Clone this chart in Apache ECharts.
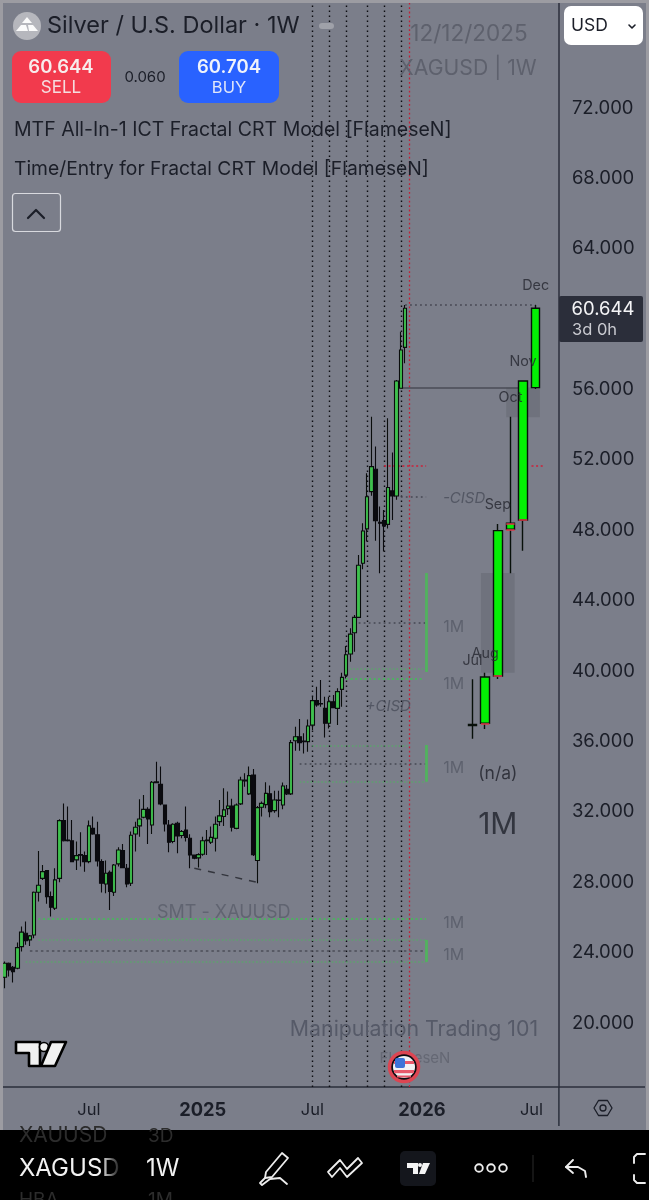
<!DOCTYPE html>
<html><head><meta charset="utf-8">
<style>html,body{margin:0;padding:0;background:#000}#c{width:649px;height:1200px}</style>
<script src="https://cdn.jsdelivr.net/npm/echarts@6/dist/echarts.min.js"></script>
</head><body><div id="c"></div>
<script>
const categories = [
"2024-02-12","2024-02-19","2024-02-26","2024-03-04","2024-03-11","2024-03-18","2024-03-25","2024-04-01","2024-04-08","2024-04-15","2024-04-22","2024-04-29",
"2024-05-06","2024-05-13","2024-05-20","2024-05-27","2024-06-03","2024-06-10","2024-06-17","2024-06-24","2024-07-01","2024-07-08","2024-07-15","2024-07-22","2024-07-29",
"2024-08-05","2024-08-12","2024-08-19","2024-08-26","2024-09-02","2024-09-09","2024-09-16","2024-09-23","2024-09-30","2024-10-07","2024-10-14","2024-10-21","2024-10-28",
"2024-11-04","2024-11-11","2024-11-18","2024-11-25","2024-12-02","2024-12-09","2024-12-16","2024-12-23","2024-12-30","2025-01-06","2025-01-13","2025-01-20","2025-01-27",
"2025-02-03","2025-02-10","2025-02-17","2025-02-24","2025-03-03","2025-03-10","2025-03-17","2025-03-24","2025-03-31","2025-04-07","2025-04-14","2025-04-21","2025-04-28",
"2025-05-05","2025-05-12","2025-05-19","2025-05-26","2025-06-02","2025-06-09","2025-06-16","2025-06-23","2025-06-30","2025-07-07","2025-07-14","2025-07-21","2025-07-28",
"2025-08-04","2025-08-11","2025-08-18","2025-08-25","2025-09-01","2025-09-08","2025-09-15","2025-09-22","2025-09-29","2025-10-06","2025-10-13","2025-10-20","2025-10-27",
"2025-11-03","2025-11-10","2025-11-17","2025-11-24","2025-12-01","2025-12-08","2025-12-15","2025-12-22","2025-12-29","2026-01-05","2026-01-12","2026-01-19","2026-01-26",
"2026-02-02","2026-02-09","2026-02-16","2026-02-23","2026-03-02","2026-03-09","2026-03-16","2026-03-23","2026-03-30","2026-04-06","2026-04-13","2026-04-20","2026-04-27",
"2026-05-04","2026-05-11","2026-05-18","2026-05-25","2026-06-01","2026-06-08","2026-06-15","2026-06-22","2026-06-29","2026-07-06","2026-07-13","2026-07-20","2026-07-27",
"2026-08-03","2026-08-10","2026-08-17"];
const xTickLabels = {"2024-07-01":"Jul","2025-01-06":"2025","2025-07-07":"Jul","2026-01-05":"2026","2026-07-06":"Jul"};
const yTickLabels = [20,24,28,32,36,40,44,48,52,56,64,68,72];

// weekly [open, close, low, high]
const weeklyOHLC = [
[22.60,23.39,21.97,23.49],[23.39,23.01,22.64,23.43],[23.17,22.92,22.30,23.24],[23.11,24.28,23.05,24.57],
[24.34,25.16,24.06,25.48],[25.10,24.68,24.44,25.76],[24.72,24.95,24.38,25.00],[25.00,27.43,24.81,27.47],
[27.43,27.83,26.90,29.78],[28.22,28.60,28.13,28.98],[28.66,27.18,26.77,28.70],[27.18,26.58,26.05,27.47],
[26.52,28.13,26.42,28.79],[28.22,31.50,28.00,31.58],[31.50,30.36,30.31,32.48],[30.40,30.36,30.31,32.30],
[30.36,29.17,29.13,31.54],[29.27,29.51,28.70,30.31],[29.57,29.53,28.89,30.84],[29.51,29.17,28.60,29.74],
[29.17,31.20,29.08,31.50],[31.06,30.74,30.69,31.73],[30.70,29.21,28.89,31.44],[29.17,27.94,27.41,29.30],
[27.90,28.51,27.37,29.23],[28.56,27.47,26.42,28.66],[27.43,28.98,27.22,29.04],[29.04,29.83,28.89,29.98],
[29.80,28.83,28.79,30.17],[28.79,27.90,27.71,29.04],[27.94,30.67,27.79,30.88],[30.74,31.12,29.74,31.44],
[31.20,31.59,30.59,32.71],[31.69,32.14,31.63,32.96],[32.14,31.59,30.17,32.26],[31.25,33.68,30.74,33.75],
[33.70,33.66,33.62,34.85],[33.56,32.45,32.37,34.57],[32.39,31.31,30.88,32.39],[31.25,30.27,29.70,31.54],
[30.31,31.29,30.21,31.35],[31.35,30.63,29.64,31.44],[30.65,30.88,30.50,30.97],[30.97,30.55,30.31,32.30],
[30.50,29.55,28.79,30.72],[29.55,29.36,29.30,29.57],[29.38,29.57,28.83,29.64],[29.59,30.36,29.51,30.59],
[30.36,30.40,29.55,30.97],[30.27,30.55,30.17,31.16],[30.50,31.29,29.74,31.73],[31.44,31.77,31.20,32.67],
[31.73,32.11,31.20,33.34],[32.18,32.33,31.82,33.15],[32.33,31.12,30.88,32.75],[31.06,32.39,31.01,32.48],
[32.45,33.81,32.39,34.00],[33.81,33.75,33.43,34.19],[33.02,34.06,32.96,34.57],[34.09,29.57,29.49,34.44],
[29.23,32.24,27.94,32.33],[32.26,32.48,31.73,32.58],[32.41,33.05,32.20,33.68],[33.02,32.01,31.69,33.49],
[32.07,32.67,31.95,33.20],[32.67,32.64,31.69,33.20],[32.39,33.47,32.14,33.66],[33.28,33.02,32.96,33.53],
[33.02,35.93,32.96,36.08],[36.04,36.27,35.47,36.84],[36.27,35.93,35.47,37.27],[36.02,35.99,35.32,36.46],
[35.99,36.88,35.42,37.25],[36.93,38.32,36.65,38.54],[38.32,38.07,37.97,39.11],[38.16,38.13,37.97,39.49],
[37.88,37.03,36.23,38.54],[37.03,38.26,36.74,38.54],[38.26,37.92,37.88,38.64],[37.88,38.83,36.93,39.02],
[38.96,39.64,37.97,39.91],[39.77,40.93,39.58,41.42],[40.97,42.10,40.53,42.43],[42.18,43.05,41.10,43.18],
[43.05,46.01,43.05,46.60],[46.13,47.96,45.78,48.40],[48.08,49.91,47.36,51.24],[50.20,51.62,49.97,54.46],
[51.47,48.55,47.41,52.76],[48.46,48.40,45.56,49.35],[48.55,48.25,46.79,49.16],[48.34,50.43,48.10,54.37],
[50.24,49.95,48.59,52.42],[49.95,56.49,49.73,56.55],[56.07,58.25,56.07,59.29],[58.40,60.62,57.49,60.81]];

// monthly overlay
const monthNames = ["Jul","Aug","Sep","Oct","Nov","Dec"];
const monthSlots = ["2026-03-30","2026-04-20","2026-05-11","2026-06-01","2026-06-22","2026-07-13"];
const monthlyOHLC = [
[36.91,36.97,36.16,39.53],[37.03,39.66,36.71,39.91],[39.72,47.98,39.55,48.36],
[48.06,48.40,45.56,54.46],[48.59,56.49,46.84,56.49],[56.11,60.62,56.03,60.80]];

const sessionLines = ["2025-07-07","2025-08-04","2025-09-01","2025-10-06","2025-11-03","2025-12-01"];
const currentLine = "2025-12-15";

// [startDate, endDate, price]
const greyDotted = [["2025-12-08","2026-07-13",60.81],["2025-12-01","2026-01-12",49.91],["2025-09-22","2026-01-12",42.75],["2025-06-16","2026-01-12",34.72]];
const closeLevel = [["2025-12-01","2026-06-22",56.11]];
const redDotted = [["2025-11-03","2026-01-12",51.68],["2026-07-06","2026-07-27",51.68]];
const greenDotted = [["2025-09-01","2026-01-05",39.55],["2024-04-08","2026-01-12",25.91]];
const dimGreen = [["2025-09-01","2026-01-12",40.12],["2025-07-07","2025-12-15",35.74],["2025-06-16","2026-01-12",33.70],["2024-04-08","2026-01-12",24.72],["2024-03-18","2026-01-12",23.48]];
const greyDashed = [["2024-03-25","2026-01-12",24.11]];
const greenBars = [[45.57,39.95],[35.80,33.71],[24.72,23.47]];
const greenBarDate = "2026-01-12";
const redTicks = [["2026-04-20",37.03],["2026-05-11",39.72],["2026-06-01",48.06],["2026-06-01",48.40],["2026-06-22",48.59]];
const smtLine = [["2024-12-23",28.79],["2025-04-14",27.94]];
const zones = [[["2026-05-25",56.11],["2026-07-20",54.43]],[["2026-04-13",45.57],["2026-06-08",39.91]]];

// [date, price, text, kind]
const notes = [
["2026-03-16",49.80,"-CISD","cisd"],["2025-11-10",37.96,"+CISD","cisd"],
["2026-03-02",42.50,"1M","m"],["2026-03-02",39.26,"1M","m"],["2026-03-02",34.49,"1M","m"],
["2026-03-02",25.68,"1M","m"],["2026-03-02",23.86,"1M","m"],
["2026-05-11",34.15,"(n/a)","na"],["2026-05-11",31.26,"1M","big"],
["2025-02-10",26.28,"SMT - XAUUSD","smt"]];

const UI = "Inter, 'Noto Sans', sans-serif";
const BG = "#7b7e8a", INK = "#1b1e28", PANE = "#2b2f3b";
const noteStyle = {
 cisd:{fontSize:15,fontStyle:"italic",color:"#4a4d5a"},
 m:{fontSize:16,color:"#565a66",offset:[-2,0]},
 na:{fontSize:17.5,color:"#1f2129"},
 big:{fontSize:30,color:"#20232c"},
 smt:{fontSize:18,color:"#5a5e6a"}};

function seg(list){return list.map(l=>[{coord:[l[0],l[2]]},{coord:[l[1],l[2]]}]);}
const idxOf = d => categories.indexOf(d);
function tick(t){const i=idxOf(t[0]);return [{coord:[categories[i-1],t[1]]},{coord:[categories[i+1],t[1]]}];}
function styled(data,style){return data.map(d=>{d[0].lineStyle=style;return d;});}

const markLines = [].concat(
 sessionLines.map(d=>({xAxis:d,lineStyle:{color:"#0d0d12",type:[1.6,3.4],width:1.4}})),
 [{xAxis:currentLine,lineStyle:{color:"#c41f36",type:[1.8,2.6],width:1.3}}],
 styled(seg(greyDotted),{color:"#464853",type:[1.8,3.2],width:1.5}),
 styled(seg(closeLevel),{color:"#4a4c56",type:"solid",width:1.5}),
 styled(seg(redDotted),{color:"#cf1f38",type:[2,2.6],width:1.6}),
 styled(seg(greenDotted),{color:"#3fc254",type:[2,2.6],width:1.6}),
 styled(seg(dimGreen),{color:"#5da36e",type:[1.6,2],width:1.6}),
 styled(seg(greyDashed),{color:"#4c4e58",type:[2.5,3],width:1.5}),
 greenBars.map(b=>[{coord:[greenBarDate,b[0]],lineStyle:{color:"#52b25e",type:"solid",width:2.8}},{coord:[greenBarDate,b[1]]}]),
 [[{coord:smtLine[0],lineStyle:{color:"#33353d",type:[7,7],width:1.5}},{coord:smtLine[1]}]]
);

const monthlyData = categories.map(c=>{const k=monthSlots.indexOf(c);return k<0?["-","-","-","-"]:monthlyOHLC[k];});

function tx(text,x,y,font,fill,align){return {type:"text",z:100,silent:true,style:{text,x,y,font,fill,align:align||"center",verticalAlign:"middle",textAlign:align||"center",textVerticalAlign:"middle"}};}
function rect(x,y,w,h,fill,r,stroke,lw){return {type:"rect",z:100,silent:true,shape:{x,y,width:w,height:h,r:r||0},style:{fill:fill||"none",stroke:stroke||null,lineWidth:lw||0}};}
function line(x1,y1,x2,y2,stroke,lw){return {type:"line",z:100,silent:true,shape:{x1,y1,x2,y2},style:{stroke,lineWidth:lw||1}};}
function poly(points,fill,stroke,lw,closed){return {type:closed===false?"polyline":"polygon",z:100,silent:true,shape:{points},style:{fill:fill||"none",stroke:stroke||null,lineWidth:lw||0,lineJoin:"round",lineCap:"round"}};}
function circ(cx,cy,r,fill,stroke,lw){return {type:"circle",z:100,silent:true,shape:{cx,cy,r},style:{fill:fill||"none",stroke:stroke||null,lineWidth:lw||0}};}

const graphics = [
 // screen edges
 rect(0,0,649,3,"#9c9ca2"), rect(0,0,3,1130,"#9c9ca2"), rect(646,0,3,1130,"#9c9ca2"),
 // header
 circ(27,26,14,"#b6b7bd"),
 poly([[27,17],[32,23],[22,23]],"#fbfbfb"),poly([[21,25],[26,25],[28,31],[16,31]],"#fbfbfb"),poly([[28,25],[33,25],[38,31],[29,31]],"#fbfbfb"),
 tx("Silver / U.S. Dollar · 1W",47,26,"23.5px "+UI,INK,"left"),
 rect(319,23,15,6,"#9fa1a9",3),
 tx("12/12/2025",469,34,"22.5px "+UI,"#5e616d"),
 tx("XAGUSD | 1W",468,69,"21.2px "+UI,"#5e616d"),
 rect(12,51,99,52,"#f23a4d",9), tx("60.644",61,67,"600 18.5px "+UI,"#f7ecec"), tx("SELL",61,88,"17px "+UI,"#f5dcdf"),
 tx("0.060",145,77,"15px "+UI,INK),
 rect(179,51,100,52,"#2962ff",9), tx("60.704",229,67,"600 18.5px "+UI,"#f0f3fb"), tx("BUY",229,88,"16.5px "+UI,"#e1e7fa"),
 tx("MTF All-In-1 ICT Fractal CRT Model [FlameseN]",14,130,"19.5px "+UI,INK,"left"),
 tx("Time/Entry for Fractal CRT Model [FlameseN]",14,169,"19.3px "+UI,INK,"left"),
 rect(12.5,193.5,48,38,"none",3,"#d8d9de",1.2),
 poly([[28,218],[36,210],[44,218]],"none",INK,2.2,false),
 // scale corner
 rect(564,6,79,39,"#ffffff",7),
 tx("USD",571,26,"17.5px "+UI,INK,"left"),
 poly([[629,25],[632,28],[635,25]],"none",INK,1.6,false),
 // last price tag
 rect(559,296,84,46,"#2b2e3a",2),
 tx("60.644",603,309,"18.5px "+UI,"#f4f4f6"),
 tx("3d 0h",572,330,"16.5px "+UI,"#c9cad0","left"),
 // watermarks
 tx("Manipulation Trading 101",414,1030,"21.3px "+UI,"#565a68"),
 tx("FlameseN",415,1058,"15px "+UI,"#656874"),
 // flag
 circ(404,1067,14.5,"#0c0c10","#dd4552",3.5),
 circ(404,1067,11,"#f2f2f4"),
 rect(394,1061,20,3,"#e8596b"), rect(394,1070,20,3.2,"#e8596b"), rect(397,1075.5,14,2,"#e8596b"),
 rect(395,1058,10,10,"#3d73d8",2),
 // TradingView mark
 poly([[16,1042],[40,1042],[40,1066],[29,1066],[29,1053],[16,1053]],"#f1f1f1","#000",2.6),
 circ(44,1047,4.5,"#f1f1f1","#000",1.6),
 poly([[51,1042],[66,1042],[55,1066],[41,1066]],"#f1f1f1","#000",2.6),
 // axis extensions
 line(558.9,1087,558.9,1126,PANE,1.5), line(558.9,1087,645,1087,PANE,1.5),
 poly([[594,1108],[598.5,1100.5],[607.5,1100.5],[612,1108],[607.5,1115.5],[598.5,1115.5]],"none",INK,1.3),
 circ(603,1108,3,"none",INK,1.3),
 // toolbar
 rect(0,1130,649,70,"#000000"),
 tx("XAUUSD",19,1136,"21px "+UI,"#2c2c2c","left"), tx("3D",148,1136,"19px "+UI,"#2c2c2c","left"),
 tx("XAGUSD",19,1169,"24px "+UI,"#f2f2f2","left"), tx("1W",146,1169,"24px "+UI,"#f2f2f2","left"),
 {type:"rect",z:101,silent:true,shape:{x:100,y:1155,width:22,height:30},style:{fill:{type:"linear",x:0,y:0,x2:1,y2:0,colorStops:[{offset:0,color:"rgba(0,0,0,0)"},{offset:1,color:"rgba(0,0,0,1)"}]}}},
 tx("HBA",19,1200,"19px "+UI,"#2c2c2c","left"), tx("1M",148,1200,"19px "+UI,"#2c2c2c","left"),
 poly([[266,1172],[282,1153],[288,1158],[272,1177],[265,1178]],"none","#ededed",1.8),
 poly([[265,1178],[260,1183],[262,1185],[270,1179],[280,1178],[287,1184]],"none","#ededed",1.8,false),
 poly([[328,1172],[340,1160],[347,1169],[358,1158],[362,1163],[347,1177],[340,1168],[332,1177]],"none","#ededed",1.8),
 rect(400,1151,36,35,"#14161c",5),
 poly([[407,1163],[418,1163],[418,1174],[413,1174],[413,1168],[407,1168]],"#f4f4f4"),
 circ(420,1165,2,"#f4f4f4"),
 poly([[423,1163],[430,1163],[425,1174],[419,1174]],"#f4f4f4"),
 circ(479,1168,3.8,"none","#ededed",1.9),circ(491,1168,3.8,"none","#ededed",1.9),circ(503,1168,3.8,"none","#ededed",1.9),
 line(533,1155,533,1182,"#2a2a2a",1),
 poly([[573,1160],[566,1167],[573,1173]],"none","#ededed",1.9,false),
 poly([[566,1167],[578,1167],[585,1171],[586,1177]],"none","#ededed",1.9,false),
 poly([[645,1154],[637,1154],[634,1157],[634,1163]],"none","#ededed",1.9,false),
 poly([[634,1175],[634,1180],[637,1183],[645,1183]],"none","#ededed",1.9,false)
];

const chart = echarts.init(document.getElementById("c"),null,{renderer:"canvas"});
chart.setOption({
 animation:false,
 backgroundColor:BG,
 textStyle:{fontFamily:UI},
 tooltip:{show:false},
 legend:{show:false},
 grid:{left:2.5,width:556.4,top:3,height:1084},
 xAxis:{type:"category",data:categories,boundaryGap:true,
  axisLine:{lineStyle:{color:PANE,width:1.5}},axisTick:{show:false},splitLine:{show:false},
  axisLabel:{margin:15,fontFamily:UI,fontSize:16.5,color:INK,hideOverlap:false,interval:(i,v)=>v in xTickLabels,
   formatter:v=>{const t=xTickLabels[v];if(!t)return "";return t.length===4?"{y|"+t+"}":t;},
   rich:{y:{fontFamily:UI,fontSize:18.3,fontWeight:700,color:INK}}}},
 yAxis:{type:"value",position:"right",min:16.36,max:77.97,scale:true,
  axisLine:{show:true,lineStyle:{color:PANE,width:1.5}},axisTick:{show:false},splitLine:{show:false},
  axisLabel:{customValues:yTickLabels,margin:13,fontFamily:UI,fontSize:18.5,color:INK,padding:[5,0,0,0],formatter:v=>v.toFixed(3)}},
 graphic:{elements:graphics},
 series:[
  {type:"candlestick",name:"XAGUSD 1W",data:weeklyOHLC,barWidth:4,silent:true,z:3,
   itemStyle:{color:"#3fc04e",color0:"#0b0b10",borderColor:"#0a0d0c",borderColor0:"#0a0a0e",borderWidth:1.1},
   markLine:{silent:true,symbol:"none",label:{show:false},animation:false,precision:4,data:markLines,z:2},
   markArea:{silent:true,animation:false,itemStyle:{color:"rgba(66,68,76,0.2)"},data:zones.map(z=>[{coord:z[0]},{coord:z[1]}]),z:1}},
  {type:"candlestick",name:"XAGUSD 1M",data:monthlyData,barWidth:9,silent:true,z:4,
   itemStyle:{color:"#04f004",color0:"#04f004",borderColor:"#08100a",borderColor0:"#08100a",borderWidth:1.4},
   markLine:{silent:true,symbol:"none",label:{show:false},animation:false,precision:4,z:5,
    lineStyle:{color:"#d63a4a",type:"solid",width:1.6},data:redTicks.map(tick)}},
  {type:"scatter",name:"Month labels",silent:true,symbolSize:0.01,z:6,
   data:monthSlots.map((d,k)=>({value:[d,monthlyOHLC[k][3]],name:monthNames[k]})),
   label:{show:true,position:"top",distance:12,formatter:p=>p.name,fontFamily:UI,fontSize:14.3,color:"#25272f"}},
  {type:"scatter",name:"Notes",silent:true,symbolSize:0.01,z:6,
   data:notes.map(n=>({value:[n[0],n[1]],name:n[2],label:noteStyle[n[3]]})),
   label:{show:true,position:"inside",formatter:p=>p.name,fontFamily:UI}}
 ]
});
</script></body></html>
